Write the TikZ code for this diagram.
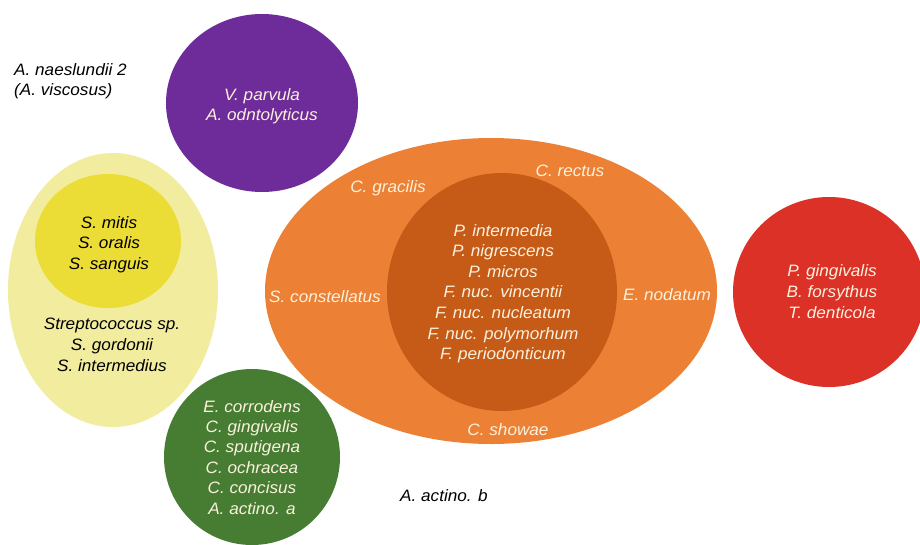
\documentclass[tikz,border=0pt]{standalone}
\usepackage{fontspec}
\setmainfont{Liberation Sans}[FakeStretch=1.04]
\definecolor{cpurple}{HTML}{6E2C9A}
\definecolor{cyellowlight}{HTML}{F1EC9E}
\definecolor{cyellow}{HTML}{ECDC36}
\definecolor{corange}{HTML}{EC8034}
\definecolor{cdarkorange}{HTML}{C65A17}
\definecolor{cred}{HTML}{DC3127}
\definecolor{cgreen}{HTML}{467D32}
\definecolor{ccream}{HTML}{FBF1DE}
\begin{document}
\begin{tikzpicture}[x=1pt,y=-1pt,
  lbl/.style={font=\fontsize{16.5}{20}\selectfont\itshape, inner sep=0pt, anchor=base},
  light/.style={lbl, text=ccream},
  dark/.style={lbl, text=black}]
\useasboundingbox (0,0) rectangle (920,544);
\clip (0,0) rectangle (920,544);
\fill[white] (0,0) rectangle (920,544);
% shapes
\fill[cpurple] (262,103) ellipse [x radius=96, y radius=89];
\fill[cyellowlight] (113,290) ellipse [x radius=105, y radius=137];
\fill[cyellow] (108,241) ellipse [x radius=73, y radius=67];
\fill[corange] (491,291) ellipse [x radius=226, y radius=153];
\fill[cdarkorange] (502,292) ellipse [x radius=115, y radius=119];
\fill[cred] (829,292) ellipse [x radius=96, y radius=95];
\fill[cgreen] (252,457) ellipse [x radius=88, y radius=88];
% free labels
\node[dark, anchor=base west] (nae1) at (14,75) {A. naeslundii 2};
\node[dark, anchor=base west] (nae2) at (14,95) {(A. viscosus)};
\node[dark, anchor=base west] (actb) at (400,501) {A. actino. b};
% purple
\foreach [count=\i] \t in {V. parvula, A. odntolyticus}
  \node[light] (pur\i) at (262,{100+(\i-1)*20}) {\t};
% yellow inner
\foreach [count=\i] \t in {S. mitis, S. oralis, S. sanguis}
  \node[dark] (yin\i) at (109,{228+(\i-1)*20.5}) {\t};
% yellow outer
\foreach [count=\i] \t in {Streptococcus sp., S. gordonii, S. intermedius}
  \node[dark] (yout\i) at (112,{329+(\i-1)*21}) {\t};
% green
\foreach [count=\i] \t in {E. corrodens, C. gingivalis, C. sputigena, C. ochracea, C. concisus, A. actino. a}
  \node[light] (grn\i) at (252,{412+(\i-1)*20.4}) {\t};
% orange ring
\node[light] (gra) at (388,192) {C. gracilis};
\node[light] (rec) at (570,176) {C. rectus};
\node[light] (con) at (325,302) {S. constellatus};
\node[light] (nod) at (667,300) {E. nodatum};
\node[light] (sho) at (508,435) {C. showae};
% dark orange core
\foreach [count=\i] \t in {P. intermedia, P. nigrescens, P. micros, F. nuc. vincentii, F. nuc. nucleatum, F. nuc. polymorhum, F. periodonticum}
  \node[light] (core\i) at (503,{236+(\i-1)*20.6}) {\t};
% red
\foreach [count=\i] \t in {P. gingivalis, B. forsythus, T. denticola}
  \node[light] (red\i) at (832,{276+(\i-1)*21}) {\t};
\end{tikzpicture}
\end{document}
